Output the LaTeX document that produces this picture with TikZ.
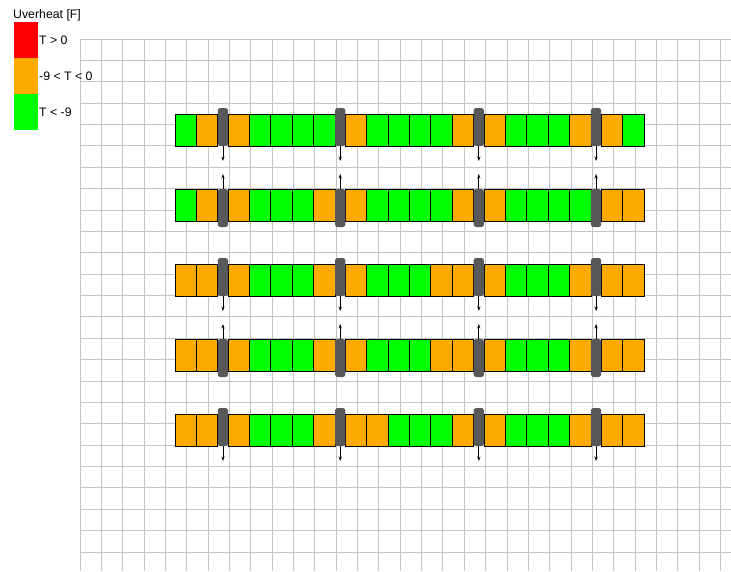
\documentclass[tikz,border=0pt]{standalone}
\usepackage{fontspec}
\setmainfont{Liberation Sans}
\usetikzlibrary{arrows.meta}
\definecolor{gridc}{RGB}{196,196,196}
\definecolor{hot}{RGB}{255,0,0}
\definecolor{warm}{RGB}{255,170,0}
\definecolor{cool}{RGB}{0,255,0}
\definecolor{barc}{RGB}{88,88,88}
\begin{document}
\begin{tikzpicture}[x=1pt,y=-1pt,
  gridline/.style={draw=gridc, line width=1.3pt},
  cell/.style={draw=black, line width=0.9pt, minimum width=21.4pt, minimum height=32pt,
    inner sep=0pt, outer sep=0pt, anchor=north west},
  connbar/.style={fill=barc, rounded corners=2.5pt, minimum width=10.25pt, minimum height=38pt,
    inner sep=0pt, outer sep=0pt},
  flowarrow/.style={draw=black, line width=0.8pt, -{Stealth[length=4.5pt,width=3.2pt]}},
  swatch/.style={minimum width=24pt, minimum height=36pt, inner sep=0pt, outer sep=0pt, anchor=north west},
  legtext/.style={font=\fontsize{12.3}{14}\selectfont, inner sep=1pt, anchor=west}]
\fill[white] (0,0) rectangle (731,571);
\useasboundingbox (0,0) rectangle (731,571);
% grid
\foreach \k in {0,...,30} {
  \pgfmathsetmacro\gx{floor(80+\k*21.35)+0.5}
  \draw[gridline] (\gx,39) -- (\gx,571);
}
\foreach \k in {0,...,24} {
  \pgfmathsetmacro\gy{floor(39+\k*21.375)+0.5}
  \draw[gridline] (79.5,\gy) -- (731,\gy);
}
% rows of cells
\foreach \r/\y/\cols in {
  1/114/{cool,warm,warm,cool,cool,cool,cool,warm,cool,cool,cool,cool,warm,warm,cool,cool,cool,warm,warm,cool},
  2/189/{cool,warm,warm,cool,cool,cool,warm,warm,cool,cool,cool,cool,warm,warm,cool,cool,cool,cool,warm,warm},
  3/264/{warm,warm,warm,cool,cool,cool,warm,warm,cool,cool,cool,warm,warm,warm,cool,cool,cool,warm,warm,warm},
  4/339/{warm,warm,warm,cool,cool,cool,warm,warm,cool,cool,cool,warm,warm,warm,cool,cool,cool,warm,warm,warm},
  5/414/{warm,warm,warm,cool,cool,cool,warm,warm,warm,cool,cool,cool,warm,warm,cool,cool,cool,warm,warm,warm}}{
  \foreach \c [count=\i from 0] in \cols {
    \pgfmathsetmacro\xx{{175,196.4,228.05,249.45,270.85,292.25,313.65,345.3,366.7,388.1,409.5,430.9,452.3,483.95,505.35,526.75,548.15,569.55,601.2,622.6}[\i]}
    \node[cell, fill=\c] (c\r-\i) at (\xx,\y) {};
  }
}
% connector bars and arrows
\foreach \r/\y/\ext in {1/114/-6, 2/189/0, 3/264/-6, 4/339/0, 5/414/-6}{
  \foreach \bx [count=\j] in {217.8,335.05,473.7,590.95}{
    \node[connbar, anchor=north west] (b\r-\j) at (\bx,{\y+\ext}) {};
  }
}
\foreach \r/\ay in {1/161,3/311,5/461}{
  \foreach \j in {1,...,4}{
    \coordinate (a\r-\j) at (b\r-\j.south |- 0,\ay);
    \draw[flowarrow] (b\r-\j.south) -- (a\r-\j);
  }
}
\foreach \r/\ay in {2/174,4/324}{
  \foreach \j in {1,...,4}{
    \coordinate (a\r-\j) at (b\r-\j.north |- 0,\ay);
    \draw[flowarrow] (b\r-\j.north) -- (a\r-\j);
  }
}
% legend
\node[legtext, anchor=west, inner sep=0pt] (title) at (13,15) {Uverheat [F]};
\node[swatch, fill=hot] (lh) at (14,22) {};
\node[swatch, fill=warm] (lw) at (14,58) {};
\node[swatch, fill=cool] (lc) at (14,94) {};
\node[legtext] (th) at (lh.east) {T > 0};
\node[legtext] (tw) at (lw.east) {-9 < T < 0};
\node[legtext] (tc) at (lc.east) {T < -9};
\end{tikzpicture}
\end{document}
